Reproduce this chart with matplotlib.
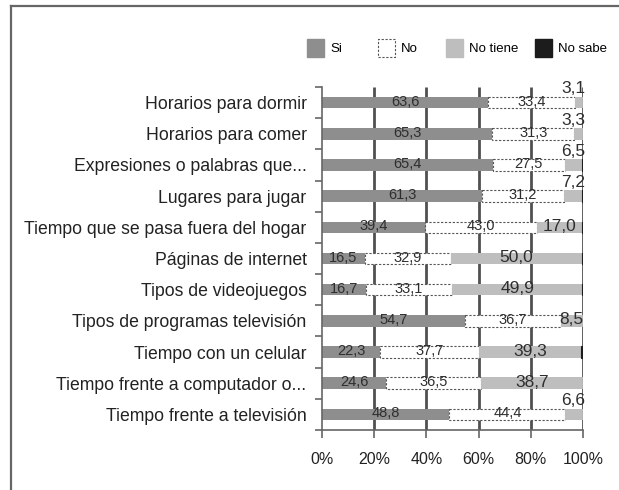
import matplotlib.pyplot as plt
from matplotlib.patches import Patch
from matplotlib.lines import Line2D
import numpy as np

plt.rcParams['font.family'] = ['Liberation Sans', 'DejaVu Sans']

# data (percent)
categories = ['Horarios para dormir', 'Horarios para comer', 'Expresiones o palabras que...',
              'Lugares para jugar', 'Tiempo que se pasa fuera del hogar', 'Páginas de internet',
              'Tipos de videojuegos', 'Tipos de programas televisión', 'Tiempo con un celular',
              'Tiempo frente a computador o...', 'Tiempo frente a televisión']
si = [63.6, 65.3, 65.4, 61.3, 39.4, 16.5, 16.7, 54.7, 22.3, 24.6, 48.8]
no = [33.4, 31.3, 27.5, 31.2, 43.0, 32.9, 33.1, 36.7, 37.7, 36.5, 44.4]
no_tiene = [3.1, 3.3, 6.5, 7.2, 17.0, 50.0, 49.9, 8.5, 39.3, 38.7, 6.6]
no_sabe = [0.0, 0.3, 0.6, 0.3, 0.6, 0.6, 0.3, 0.3, 0.7, 0.3, 0.3]
xticks = [0, 20, 40, 60, 80, 100]

c_si = '#8e8e8e'
c_nt = '#bebebe'
c_ns = '#1c1c1c'
c_txt = '#2e2e2e'

fig = plt.figure(figsize=(6.19, 4.90), dpi=100, facecolor='white')
ax = fig.add_axes([0.520, 0.1224, 0.422, 0.700])

y = np.arange(len(categories))
h = 0.37
si = np.array(si); no = np.array(no); no_tiene = np.array(no_tiene); no_sabe = np.array(no_sabe)

# vertical grid lines behind the bars
ax.vlines(xticks[1:], -0.5, len(categories) - 0.5, colors='#505050', linewidth=2.0, zorder=1)

ax.barh(y, si, height=h, color=c_si, zorder=2)
ax.barh(y, no, left=si, height=h, color='white', edgecolor='#555555',
        linewidth=0.8, linestyle=(0, (2, 1.5)), zorder=2)
ax.barh(y, no_tiene, left=si + no, height=h, color=c_nt, zorder=2)
ax.barh(y, no_sabe, left=si + no + no_tiene, height=h, color=c_ns,
        edgecolor=c_ns, linewidth=0.8, zorder=2)

def fmt(v):
    return f'{v:.1f}'.replace('.', ',')

for i in y:
    ax.text(si[i] / 2, i - 0.03, fmt(si[i]), ha='center', va='center',
            fontsize=10.5, color=c_txt, zorder=3)
    ax.text(si[i] + no[i] / 2, i - 0.03, fmt(no[i]), ha='center', va='center',
            fontsize=10.5, color=c_txt, zorder=3)
    if no_tiene[i] < 8:
        ax.text(100.8, i - 0.2, fmt(no_tiene[i]), ha='right', va='bottom',
                fontsize=12.5, color=c_txt, zorder=3)
    else:
        ax.text(si[i] + no[i] + no_tiene[i] / 2, i - 0.03, fmt(no_tiene[i]),
                ha='center', va='center', fontsize=12.5, color=c_txt, zorder=3)

ax.set_xlim(0, 100)
ax.set_ylim(len(categories) - 0.5, -0.5)
ax.set_xticks(xticks)
ax.set_xticklabels([f'{t}%' for t in xticks], fontsize=11.5, color='#222222')
ax.set_yticks(y)
ax.set_yticklabels(categories, fontsize=12.7, color='#222222')
ax.set_yticks(np.arange(-0.5, len(categories), 1), minor=True)
ax.tick_params(axis='y', which='major', length=0, pad=11)
ax.tick_params(axis='y', which='minor', length=5, color='#666666', width=1.2)
ax.tick_params(axis='x', length=6, color='#666666', width=1.2, pad=10)

for s in ['top', 'right']:
    ax.spines[s].set_visible(False)
for s in ['left', 'bottom']:
    ax.spines[s].set_color('#666666')
    ax.spines[s].set_linewidth(1.2)

# legend entries placed individually
entries = [
    ('Si', Patch(facecolor=c_si, edgecolor=c_si), 307),
    ('No', Patch(facecolor='white', edgecolor='#555555', linestyle=(0, (2, 1.5)), linewidth=0.8), 378),
    ('No tiene', Patch(facecolor=c_nt, edgecolor=c_nt), 446),
    ('No sabe', Patch(facecolor=c_ns, edgecolor=c_ns), 535),
]
for label, handle, px in entries:
    fig.legend([handle], [label], loc='center left', bbox_to_anchor=(px / 619, 1 - 48 / 490),
               frameon=False, fontsize=9.5, handlelength=1.3, handleheight=1.75,
               handletextpad=0.45, borderpad=0, borderaxespad=0)

# outer frame
fig.add_artist(Line2D([11 / 619, 1], [1 - 6 / 490, 1 - 6 / 490], color='#666666', linewidth=1.6))
fig.add_artist(Line2D([11 / 619, 11 / 619], [0, 1 - 6 / 490], color='#666666', linewidth=1.6))

fig.savefig('out.png', dpi=100)
